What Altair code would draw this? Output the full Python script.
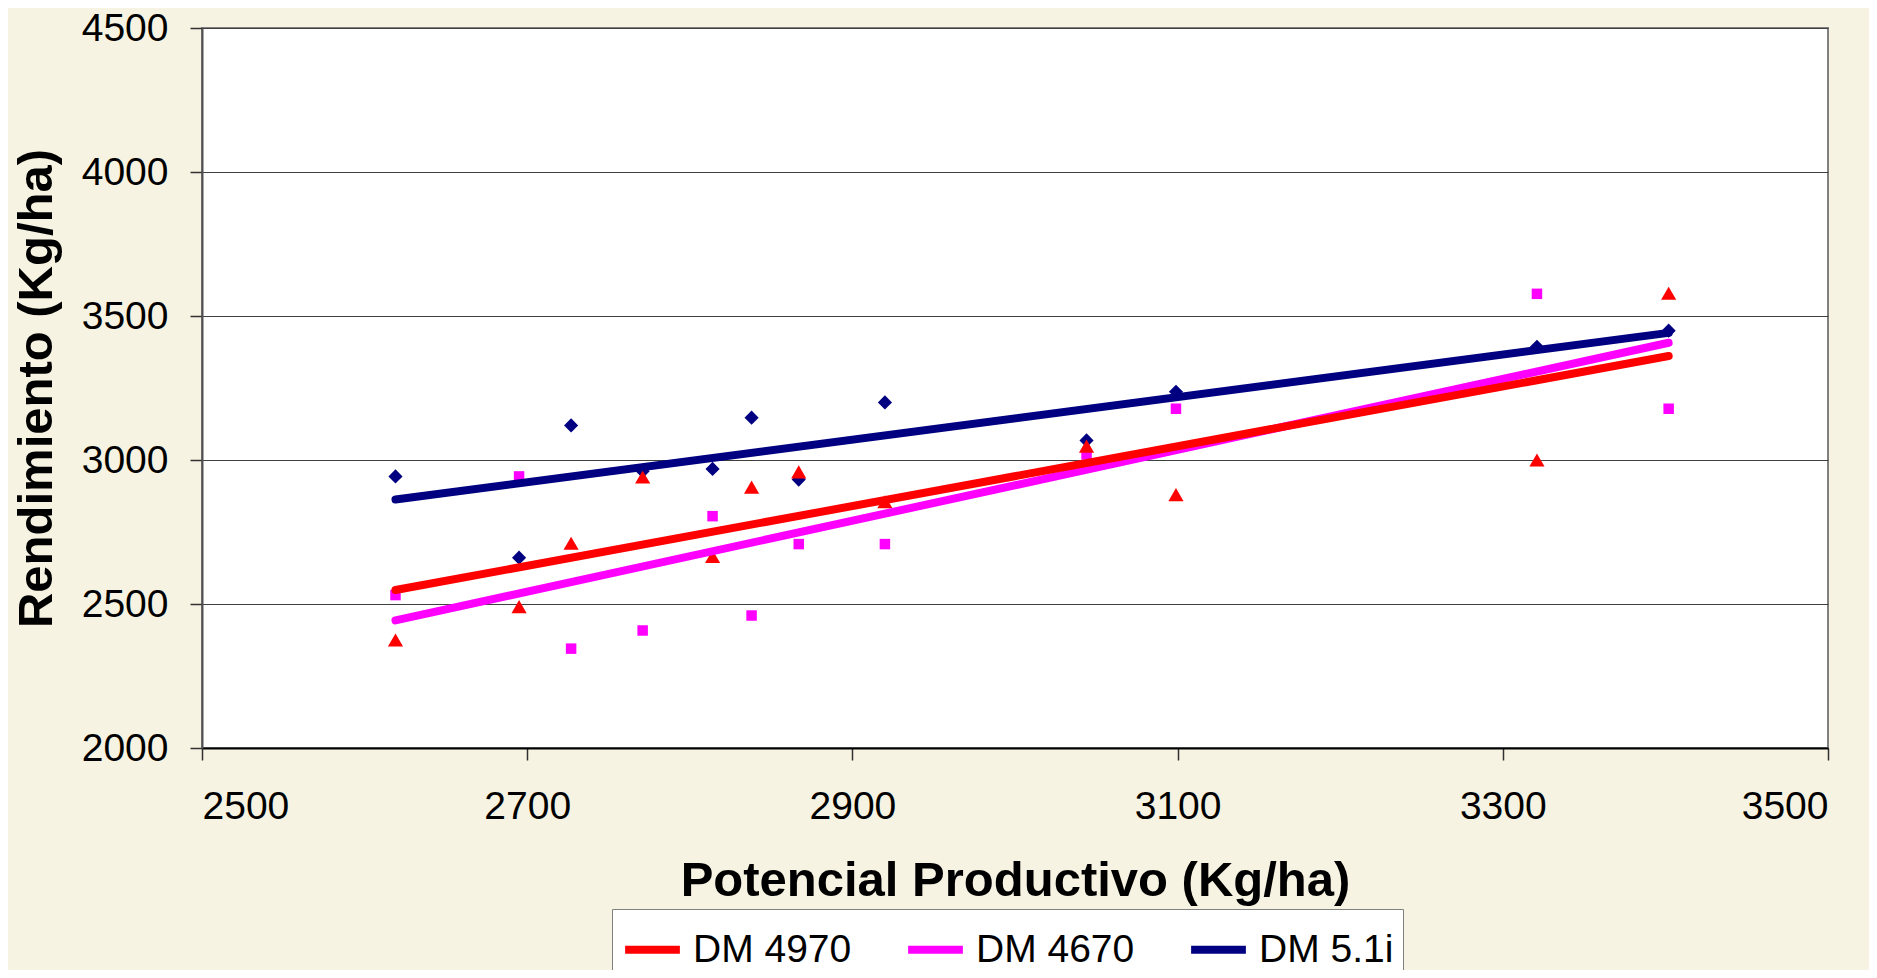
import altair as alt
import pandas as pd

# Potencial productivo (x) shared by all three varieties
potencial = [2619, 2695, 2727, 2771, 2814, 2838, 2867, 2920, 3044, 3099, 3321, 3402]
# Rendimiento (y) per variety
dm4970 = [2375, 2491, 2711, 2941, 2665, 2906, 2959, 2855, 3048, 2880, 3000, 3579]
dm4670 = [2531, 2943, 2345, 2408, 2805, 2460, 2708, 2708, 3019, 3178, 3577, 3178]
dm51i = [2943, 2661, 3120, 2961, 2969, 3147, 2932, 3200, 3068, 3237, 3393, 3449]

series = ["DM 4970", "DM 4670", "DM 5.1i"]
colors = ["#FF0000", "#FF00FF", "#000080"]
shapes = ["triangle-up", "square", "diamond"]
sizes = [230, 110, 200]

x_ticks = [2500, 2700, 2900, 3100, 3300, 3500]
y_ticks = [2000, 2500, 3000, 3500, 4000, 4500]

rows = []
for name, vals in [("DM 5.1i", dm51i), ("DM 4670", dm4670), ("DM 4970", dm4970)]:
    for xv, yv in zip(potencial, vals):
        rows.append({"Potencial": xv, "Rendimiento": yv, "Serie": name})
df = pd.DataFrame(rows)

FONT = "Liberation Sans, Arial, sans-serif"

x_enc = alt.X(
    "Potencial:Q",
    scale=alt.Scale(domain=[2500, 3500], nice=False, zero=False),
    axis=alt.Axis(
        values=x_ticks, grid=False, title="Potencial Productivo (Kg/ha)", format="d",
        labelFontSize=39, labelFont=FONT, labelColor="#000000",
        tickSize=12, tickColor="#303030", tickWidth=1.5,
        labelPadding=27, domainColor="#000000", domainWidth=2,
        titleFontSize=49, titleFont=FONT, titleFontWeight="bold",
        titleColor="#000000", titlePadding=30,
    ),
)
y_enc = alt.Y(
    "Rendimiento:Q",
    scale=alt.Scale(domain=[2000, 4500], nice=False, zero=False),
    axis=alt.Axis(
        values=y_ticks, grid=True, gridColor="#404040", gridWidth=1.2, format="d",
        title="Rendimiento (Kg/ha)",
        labelFontSize=39, labelFont=FONT, labelColor="#000000",
        tickSize=12, tickColor="#303030", tickWidth=1.5,
        labelPadding=22, domainColor="#505050", domainWidth=2,
        titleFontSize=49, titleFont=FONT, titleFontWeight="bold",
        titleColor="#000000", titlePadding=20,
    ),
)

points = alt.Chart(df).mark_point(filled=True, opacity=1, strokeWidth=0).encode(
    x=x_enc,
    y=y_enc,
    color=alt.Color("Serie:N", scale=alt.Scale(domain=series, range=colors), legend=None),
    shape=alt.Shape("Serie:N", scale=alt.Scale(domain=series, range=shapes), legend=None),
    size=alt.Size("Serie:N", scale=alt.Scale(type="ordinal", domain=series, range=sizes), legend=None),
)

lines = (
    alt.Chart(df)
    .transform_regression("Potencial", "Rendimiento", groupby=["Serie"], method="linear")
    .mark_line(strokeWidth=8, strokeCap="round")
    .encode(
        x=x_enc,
        y=y_enc,
        color=alt.Color(
            "Serie:N",
            scale=alt.Scale(domain=series, range=colors),
            legend=alt.Legend(
                title=None, orient="none", legendX=410, legendY=881,
                direction="horizontal", fillColor="#FFFFFF", strokeColor="#808080",
                padding=9, symbolType="stroke", symbolSize=3000,
                symbolStrokeWidth=8, labelFontSize=39, labelFont=FONT,
                labelColor="#000000", labelOffset=9, columnPadding=40,
            ),
        ),
        detail="Serie:N",
    )
)

chart = (
    alt.layer(points, lines)
    .resolve_scale(color="independent")
    .resolve_legend(color="independent")
    .properties(
        width=1626,
        height=720,
        background="#F7F3E2",
        padding={"left": 194, "top": 20, "right": 41, "bottom": 222},
        autosize=alt.AutoSizeParams(type="none"),
    )
    .configure_view(fill="#FFFFFF", stroke="#808080", strokeWidth=2)
)

chart.save("out.html", embed_options={"renderer": "svg", "actions": False})
